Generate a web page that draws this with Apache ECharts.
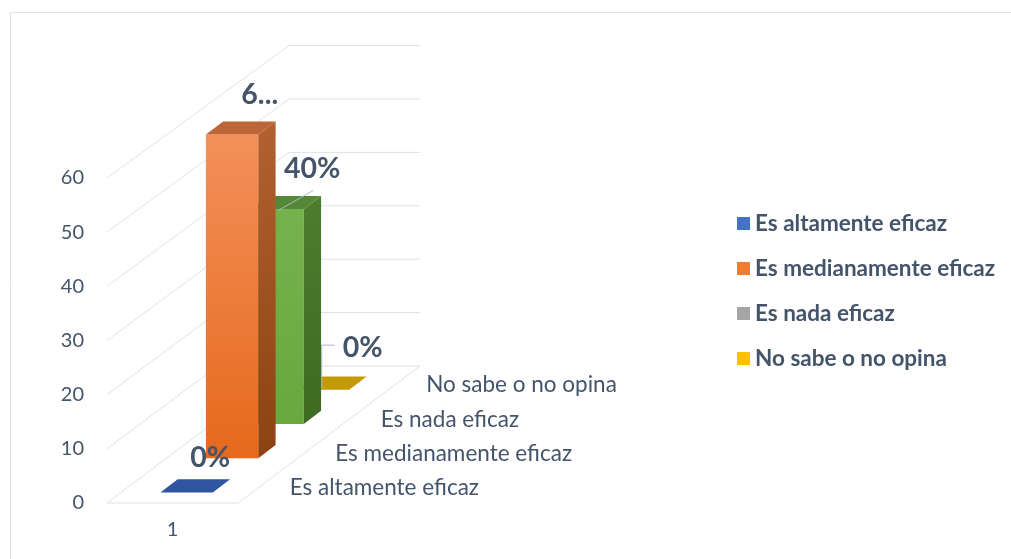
<!DOCTYPE html>
<html>
<head>
<meta charset="utf-8">
<script src="https://cdn.jsdelivr.net/npm/echarts@6/dist/echarts.min.js"></script>
<style>
  html, body { margin: 0; padding: 0; background: #fff; }
  #chart { width: 1011px; height: 559px; }
</style>
</head>
<body>
<div id="chart"></div>
<script>
// data
const categories = ['1'];
const seriesNames = ['Es altamente eficaz', 'Es medianamente eficaz', 'Es nada eficaz', 'No sabe o no opina'];
const values = [0, 60, 40, 0];
const valueLabels = ['0%', '6...', '40%', '0%'];
const yTicks = [0, 10, 20, 30, 40, 50, 60];

// styles
const TEXT = '#44546A';
const GRID = '#DEE1E6';
const FONT = 'Lato, "Noto Sans", sans-serif';
const DX = 182, DY = -137; // depth vector of the floor (4 rows)
const PERSP = 0.0035;      // slight shrink of heights with depth
const legendColors = ['#4472C4', '#ED7D31', '#A5A5A5', '#FFC000'];
const faces = [
  { front: ['#4472C4', '#2F55A0'], side: ['#2F4F8F', '#24407A'], top: '#2F55A0' },
  { front: ['#F3905A', '#E6691C'], side: ['#B2612F', '#8C4213'], top: '#BC6536' },
  { front: ['#76B24C', '#68A83F'], side: ['#4C7E2E', '#3E6A22'], top: '#558836' },
  { front: ['#FFC000', '#D9A300'], side: ['#A88000', '#8C6A00'], top: '#C49A00' }
];
const labelPos = [
  { dx: 15, dy: -28 },
  { dx: 19, dy: -33 },
  { dx: 26, dy: -34, leader: [[-8, 8], [27, -12]] },
  { dx: 31, dy: -35, leader: [[-10, 5], [-10, -38], [3, -38]] }
];

function grad(c) {
  return new echarts.graphic.LinearGradient(0, 0, 0, 1, [
    { offset: 0, color: c[0] }, { offset: 1, color: c[1] }
  ]);
}

function line(a, b) {
  return { type: 'line', shape: { x1: a[0], y1: a[1], x2: b[0], y2: b[1] },
           style: { stroke: GRID, lineWidth: 1 } };
}

function renderWalls(params, api) {
  const bw = api.size([1, 0])[0];
  const o = api.coord([0, 0]);
  const x0 = o[0] - bw / 2, x1 = o[0] + bw / 2;
  const f = 1 - PERSP * 4;
  const kids = [];
  yTicks.forEach(function (t) {
    const y = api.coord([0, t])[1];
    const yb = o[1] + DY - (o[1] - y) * f;
    kids.push(line([x0, y], [x0 + DX, yb]));
    kids.push(line([x0 + DX, yb], [x1 + DX, yb]));
  });
  kids.push(line([x0, o[1]], [x1, o[1]]));
  kids.push(line([x1, o[1]], [x1 + DX, o[1] + DY]));
  // depth axis labels
  seriesNames.forEach(function (name, i) {
    const s = i + 0.5;
    kids.push({ type: 'text', x: x1 + DX / 4 * s + 29, y: o[1] + DY / 4 * s + 2,
      style: { text: name, fill: TEXT, font: '22.5px ' + FONT, align: 'left', verticalAlign: 'middle' } });
  });
  return { type: 'group', children: kids };
}

function makeBar(i) {
  return function (params, api) {
    const v = api.value(1);
    const bw = api.size([1, 0])[0];
    const o = api.coord([0, 0]);
    const rx = DX / 4, ry = DY / 4;
    const s = i + 0.31;
    const h = (o[1] - api.coord([0, v])[1]) * (1 - PERSP * s);
    const left = o[0] - bw / 2 + rx * s + bw * 0.30;
    const w = bw * 0.40;
    const bottom = o[1] + ry * s;
    const top = bottom - h;
    const dx = rx * 0.38, dy = ry * 0.38;
    const c = faces[i];
    const kids = [];
    if (h > 0.5) {
      kids.push({ type: 'rect', shape: { x: left, y: top, width: w, height: h }, style: { fill: grad(c.front) } });
      kids.push({ type: 'polygon', shape: { points: [[left + w, top], [left + w + dx, top + dy], [left + w + dx, bottom + dy], [left + w, bottom]] },
                  style: { fill: grad(c.side) } });
    }
    kids.push({ type: 'polygon', shape: { points: [[left, top], [left + w, top], [left + w + dx, top + dy], [left + dx, top + dy]] },
                style: { fill: c.top } });
    const cx = left + w / 2 + dx / 2, cy = top + dy / 2;
    const L = labelPos[i];
    if (L.leader) {
      kids.push({ type: 'polyline', shape: { points: L.leader.map(function (p) { return [cx + p[0], cy + p[1]]; }) },
                  style: { stroke: '#ADB9CA', fill: null, lineWidth: 1 } });
    }
    kids.push({ type: 'text', x: cx + L.dx, y: cy + L.dy,
      style: { text: valueLabels[i], fill: TEXT, font: 'bold 28.5px ' + FONT, align: 'center', verticalAlign: 'middle' } });
    return { type: 'group', children: kids };
  };
}

const series = [{
  type: 'custom', name: 'walls', z: 1, silent: true,
  renderItem: renderWalls, data: [[0, 0]], encode: { x: 0, y: 1 }
}];
seriesNames.forEach(function (name, i) {
  series.push({
    type: 'custom', name: name, z: 10 - i,
    itemStyle: { color: legendColors[i] },
    renderItem: makeBar(i),
    data: [[0, values[i]]],
    encode: { x: 0, y: 1 }
  });
});

const chart = echarts.init(document.getElementById('chart'));
chart.setOption({
  animation: false,
  grid: { left: 107, top: 178, width: 131, height: 325 },
  xAxis: {
    type: 'category', data: categories,
    axisLine: { show: false }, axisTick: { show: false },
    axisLabel: { color: TEXT, fontFamily: FONT, fontSize: 20, margin: 17 }
  },
  yAxis: {
    type: 'value', min: 0, max: 60, interval: 10,
    axisLine: { show: false }, axisTick: { show: false }, splitLine: { show: false },
    axisLabel: { color: TEXT, fontFamily: FONT, fontSize: 20, margin: 23 }
  },
  legend: {
    orient: 'vertical', left: 737, top: 212, padding: 0,
    itemWidth: 13, itemHeight: 13, itemGap: 22, icon: 'rect',
    data: seriesNames,
    textStyle: { color: TEXT, fontFamily: FONT, fontWeight: 'bold', fontSize: 22.5, lineHeight: 19 }
  },
  graphic: [
    { type: 'line', shape: { x1: 10, y1: 12.5, x2: 1011, y2: 12.5 }, style: { stroke: GRID, lineWidth: 1 } },
    { type: 'line', shape: { x1: 10.5, y1: 12, x2: 10.5, y2: 559 }, style: { stroke: GRID, lineWidth: 1 } }
  ],
  series: series
});
</script>
</body>
</html>
